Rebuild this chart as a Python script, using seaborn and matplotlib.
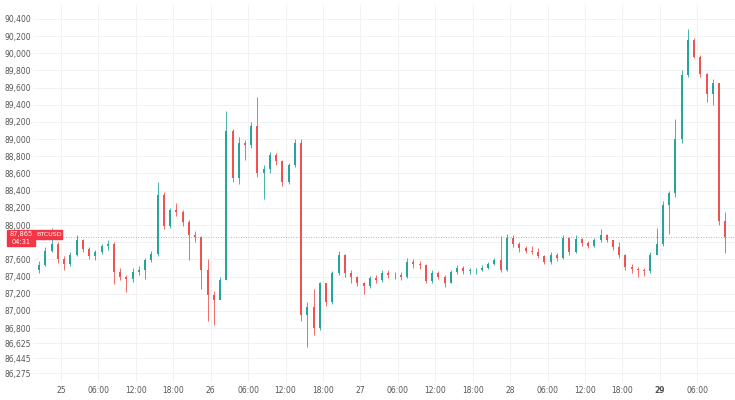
import numpy as np
import matplotlib
matplotlib.use('Agg')
import matplotlib.pyplot as plt
import seaborn as sns
from matplotlib.patches import Rectangle

# hourly BTCUSD candles, first candle starts 24th 20:00 (hour -4 from the 25th)
first_open = 87470
close = [87530, 87700, 87780, 87600, 87540, 87650, 87820, 87720, 87640, 87690,
         87750, 87780, 87450, 87400, 87370, 87450, 87480, 87590, 87660, 88350,
         87990, 88170, 88150, 88040, 87880, 87860, 87470, 87190, 87130, 87360,
         89100, 88550, 88950, 88930, 89150, 88600, 88650, 88820, 88740, 88500,
         88700, 88950, 86950, 87050, 86800, 87320, 87100, 87440, 87650, 87440,
         87400, 87320, 87290, 87380, 87360, 87440, 87420, 87420, 87390, 87570,
         87540, 87530, 87350, 87440, 87400, 87330, 87450, 87500, 87460, 87470,
         87480, 87500, 87540, 87590, 87470, 87850, 87780, 87730, 87700, 87690,
         87640, 87570, 87650, 87610, 87850, 87680, 87840, 87790, 87760, 87820,
         87880, 87820, 87740, 87650, 87510, 87490, 87470, 87460, 87650, 87780,
         88230, 88370, 89000, 89750, 90150, 89960, 89760, 89530, 89650, 88050,
         87865]
high = [87580, 87740, 87970, 87800, 87640, 87690, 87880, 87840, 87740, 87710,
        87780, 87820, 87800, 87500, 87420, 87500, 87520, 87610, 87700, 88500,
        88380, 88200, 88260, 88170, 88060, 87930, 87870, 87600, 87230, 87400,
        89330, 89120, 89030, 88990, 89200, 89490, 88700, 88850, 88840, 88760,
        88720, 89000, 89000, 87100, 87250, 87340, 87330, 87460, 87700, 87660,
        87470, 87410, 87340, 87410, 87420, 87470, 87470, 87450, 87450, 87620,
        87600, 87580, 87540, 87480, 87460, 87420, 87470, 87530, 87520, 87500,
        87500, 87530, 87570, 87620, 87870, 87900, 87880, 87800, 87760, 87750,
        87730, 87650, 87680, 87670, 87880, 87860, 87880, 87850, 87810, 87850,
        87950, 87900, 87830, 87800, 87660, 87540, 87510, 87500, 87680, 87960,
        88280, 88400, 89230, 89810, 90280, 90180, 89980, 89770, 89700, 89660,
        88150]
low = [87440, 87520, 87680, 87560, 87480, 87520, 87640, 87690, 87600, 87590,
       87660, 87710, 87310, 87360, 87220, 87340, 87420, 87370, 87570, 87640,
       87950, 87960, 88100, 87990, 87590, 87800, 87260, 86880, 86840, 87150,
       87480, 88500, 88480, 88760, 88900, 88560, 88300, 88600, 88700, 88460,
       88480, 88680, 86880, 86580, 86720, 86780, 87060, 87080, 87420, 87400,
       87330, 87290, 87200, 87270, 87330, 87340, 87380, 87370, 87360, 87380,
       87500, 87490, 87320, 87330, 87370, 87280, 87320, 87430, 87430, 87430,
       87430, 87460, 87490, 87530, 87450, 87460, 87740, 87690, 87670, 87660,
       87610, 87540, 87550, 87580, 87600, 87650, 87670, 87760, 87730, 87740,
       87800, 87800, 87710, 87620, 87470, 87440, 87400, 87410, 87440, 87680,
       87760, 87890, 88330, 88950, 89720, 89940, 89720, 89430, 89400, 88000,
       87670]

last_price = 87865
price_ticks = [86275, 86445, 86625, 86800, 87000, 87200, 87400, 87600, 87800,
               88000, 88200, 88400, 88600, 88800, 89000, 89200, 89400, 89600,
               89800, 90000, 90200, 90400]
time_ticks = [0, 6, 12, 18, 24, 30, 36, 42, 48, 54, 60, 66, 72, 78, 84, 90, 96, 102]
time_labels = ['25', '06:00', '12:00', '18:00', '26', '06:00', '12:00', '18:00',
               '27', '06:00', '12:00', '18:00', '28', '06:00', '12:00', '18:00',
               '29', '06:00']

sns.set_theme(style="white")
plt.rcParams['font.family'] = ['DejaVu Sans']

close = np.array(close)
high = np.array(high)
low = np.array(low)
opens = np.concatenate([[first_open], close[:-1]])
hours = np.arange(len(close)) - 4 + 0.5

up_col = '#26a69a'
down_col = '#ef5350'
colors = np.where(close >= opens, up_col, down_col)

fig = plt.figure(figsize=(7.35, 4), dpi=100)
ax = fig.add_axes([33 / 735, 1 - 382 / 400, 1 - 33 / 735, 377 / 400])

ax.vlines(hours, low, high, colors=colors, linewidth=0.6, zorder=3)
ax.bar(hours, close - opens, bottom=opens, width=0.32, color=colors,
       linewidth=0, zorder=4)

ax.axhline(last_price, color='#f23645', linestyle=(0, (1, 2)), linewidth=0.6,
           alpha=0.7, zorder=2)

ax.set_xlim(-4.49, 108.06)
ax.set_ylim(86171, 90563)
ax.set_yticks(price_ticks)
# 87,800 sits behind the last-price tag
ax.set_yticklabels(['' if v == 87800 else f'{v:,}' for v in price_ticks])
ax.set_xticks(time_ticks)
ax.set_xticklabels(time_labels)
for lbl in ax.get_xticklabels():
    if lbl.get_text() == '29':
        lbl.set_fontweight('bold')
        lbl.set_color('#333333')

ax.tick_params(axis='both', length=0, labelsize=5.5, colors='#555555')
ax.tick_params(axis='y', pad=1.5)
ax.tick_params(axis='x', pad=3)
ax.grid(True, color='#f0f1f4', linewidth=0.7)
ax.set_axisbelow(True)
sns.despine(ax=ax, left=True, bottom=True)

# last price tags on the left scale
fig.patches.append(Rectangle((7 / 735, 1 - 246 / 400), 28 / 735, 16 / 400,
                             transform=fig.transFigure, color='#f23645', zorder=5))
fig.patches.append(Rectangle((36 / 735, 1 - 239 / 400), 26 / 735, 9 / 400,
                             transform=fig.transFigure, color='#f23645', zorder=5))
fig.text(21 / 735, 1 - 234 / 400, f'{last_price:,}', color='white', fontsize=4.8,
         ha='center', va='center', zorder=6)
fig.text(21 / 735, 1 - 241.5 / 400, '04:31', color='white', fontsize=4.8,
         ha='center', va='center', zorder=6)
fig.text(49 / 735, 1 - 234.5 / 400, 'BTCUSD', color='white', fontsize=4.6,
         ha='center', va='center', zorder=6)

fig.savefig('out.png', dpi=100)
